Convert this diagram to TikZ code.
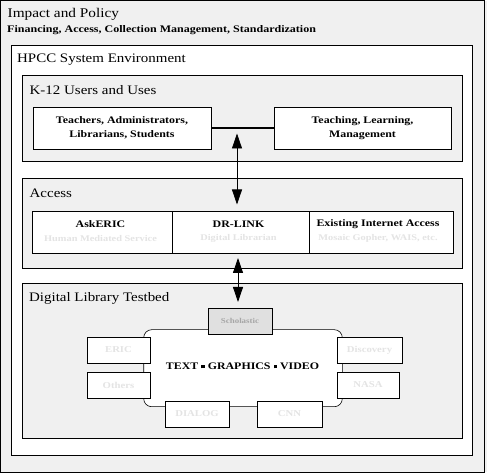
\documentclass[tikz,border=0pt]{standalone}
\usepackage{fontspec}
\setmainfont{Liberation Serif}[FakeStretch=1.19]
\newfontfamily\titlefont{Liberation Serif}[FakeStretch=1.15]
\usetikzlibrary{arrows.meta}
\definecolor{panel}{HTML}{F0F0F0}
\definecolor{faint}{HTML}{E4E4E4}
\definecolor{schol}{HTML}{E0E0E0}
\tikzset{
  frame/.style={draw=black, line width=0.9pt, fill=panel},
  whiteframe/.style={draw=black, line width=0.9pt, fill=white},
  title/.style={anchor=west, inner sep=0pt, font=\titlefont\fontsize{13}{15}\selectfont},
  box/.style={draw=black, line width=0.9pt, fill=white, align=center, inner sep=0pt,
     font=\bfseries\fontsize{10}{14}\selectfont},
  lbl/.style={font=\bfseries\fontsize{10}{12}\selectfont},
  sub/.style={font=\bfseries\fontsize{8.7}{10}\selectfont, text=faint},
  src/.style={draw=black, line width=0.6pt, fill=white, inner sep=0pt, text=faint,
     font=\bfseries\fontsize{9}{11}\selectfont},
  dbl/.style={line width=0.8pt, {Triangle[length=15pt,width=10pt]}-{Triangle[length=15pt,width=10pt]}},
}
\begin{document}
\begin{tikzpicture}[x=1pt,y=-1pt]
\useasboundingbox (0,0) rectangle (496,473);
\fill[white] (0,0) rectangle (496,473);
\fill[panel] (484,1) rectangle (487,472);
% outer
\draw[frame] (0.5,0.5) rectangle (484,472);
\node[title, font=\titlefont\fontsize{13.3}{15}\selectfont] (impact) at (7.5,14.5) {Impact and Policy};
\node[title, font=\bfseries\fontsize{10.1}{12}\selectfont] (fin) at (7,30) {Financing, Access, Collection Management, Standardization};
% HPCC
\draw[whiteframe] (11.7,45.3) rectangle (472.7,455.3);
\node[title] (hpcc) at (17,59.5) {HPCC System Environment};
% K-12
\draw[frame] (22.3,75.3) rectangle (462.7,161.3);
\node[title] (k12) at (29.5,90.5) {K-12 Users and Uses};
\node[box, minimum width=178pt, minimum height=42pt] (teachers) at (122,128) {Teachers, Administrators,\\Librarians, Students};
\node[box, minimum width=177pt, minimum height=42pt] (teaching) at (362.5,128) {Teaching, Learning,\\Management};
\draw[line width=1.4pt] (teachers.east) -- (teaching.west);
% Access
\draw[frame] (22.3,178.3) rectangle (462.7,268.3);
\node[title] (access) at (29.5,193) {Access};
\node[box, minimum width=140pt, minimum height=42pt] (askeric) at (102,232) {};
\node[box, minimum width=137pt, minimum height=42pt] (drlink) at (240.5,232) {};
\node[box, minimum width=144pt, minimum height=42pt] (inet) at (381,232) {};
\node[lbl] at (100.5,224) {AskERIC};
\node[sub] at (100.5,238.5) {Human Mediated Service};
\node[lbl] at (238.5,224) {DR-LINK};
\node[sub] at (238.5,238.5) {Digital Librarian};
\node[lbl] at (378,224) {Existing Internet Access};
\node[sub] at (378,238.5) {Mosaic Gopher, WAIS, etc.};
% Digital library
\draw[frame] (22.3,283.3) rectangle (462.7,438.3);
\node[title] (dlt) at (29,298.5) {Digital Library Testbed};
\draw[line width=0.6pt, fill=white, rounded corners=8pt] (143.7,329.7) rectangle (342.3,406.7);
\node[lbl] (tgv) at (242.5,366) {TEXT \raisebox{0.8pt}{\rule{3.5pt}{3.5pt}} GRAPHICS \raisebox{0.8pt}{\rule{3.5pt}{3.5pt}} VIDEO};
\node[draw=black, line width=0.6pt, fill=schol, inner sep=0pt, minimum width=64pt, minimum height=26pt,
      font=\bfseries\fontsize{7.5}{9}\selectfont, text=gray!70] (scholastic) at (240,321) {Scholastic};
\node[src, minimum width=63pt, minimum height=26pt] (eric) at (118.5,350) {ERIC};
\node[src, minimum width=63pt, minimum height=26pt] (others) at (118.5,385) {Others};
\node[src, minimum width=65pt, minimum height=26pt] (discovery) at (369.5,350) {Discovery};
\node[src, minimum width=62pt, minimum height=26pt] (nasa) at (368,385) {NASA};
\node[src, minimum width=64pt, minimum height=26pt] (dialog) at (197,414) {DIALOG};
\node[src, minimum width=65pt, minimum height=26pt] (cnn) at (289.5,414) {CNN};
% arrows
\coordinate (a1s) at (237,133.5);
\coordinate (a1e) at (237,204.5);
\draw[dbl] (a1s) -- (a1e);
\coordinate (a2s) at (238,258);
\coordinate (a2e) at (238,302);
\draw[dbl] (a2s) -- (a2e);
\end{tikzpicture}
\end{document}
